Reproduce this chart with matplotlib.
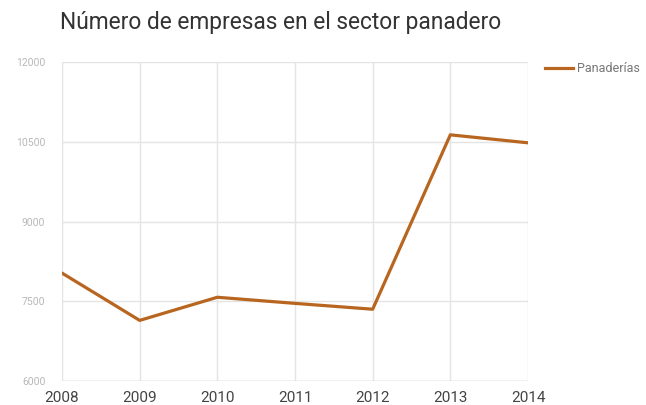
import matplotlib
matplotlib.use("Agg")
import matplotlib.pyplot as plt

years = ["2008", "2009", "2010", "2011", "2012", "2013", "2014"]
panaderias = [8030, 7140, 7575, 7460, 7350, 10630, 10480]
yticks = [6000, 7500, 9000, 10500, 12000]
series_name = "Panaderías"
title = "Número de empresas en el sector panadero"

plt.rcParams['font.family'] = ['Roboto', 'DejaVu Sans']

fig = plt.figure(figsize=(6.46, 4.05), dpi=100)
ax = fig.add_axes([62/646, 1-381/405, (528-62)/646, (381-62)/405])

x = list(range(len(years)))
line, = ax.plot(x, panaderias, color='#B8661F', linewidth=2.3, solid_joinstyle='round',
                solid_capstyle='round', zorder=3, label=series_name)

ax.set_xlim(0, len(years)-1)
ax.set_ylim(6000, 12000)
ax.set_xticks(x)
ax.set_xticklabels(years)
ax.set_yticks(yticks)
ax.set_yticklabels([str(v) for v in yticks])
ax.grid(True, color='#e4e4e4', linewidth=1.0)
for s in ax.spines.values():
    s.set_visible(False)
ax.axhline(6000, color='#d4d4d4', linewidth=1.0, zorder=2)
ax.tick_params(axis='x', length=0, pad=7, labelsize=11, labelcolor='#444444')
ax.tick_params(axis='y', length=0, pad=12, labelsize=7.5, labelcolor='#b8b8b8')
for lab in ax.get_xticklabels():
    lab.set_clip_on(False)

fig.text(60/646, 1-23/405, title, fontsize=16.4, color='#333333', va='center', ha='left')

# legend
fig.add_artist(plt.Line2D([545/646, 573/646], [1-68/405, 1-68/405], color='#B8661F',
                          linewidth=2.3, transform=fig.transFigure))
fig.text(577/646, 1-68/405, series_name, fontsize=9, color='#777777', va='center', ha='left')

fig.savefig("out.png", dpi=100)
